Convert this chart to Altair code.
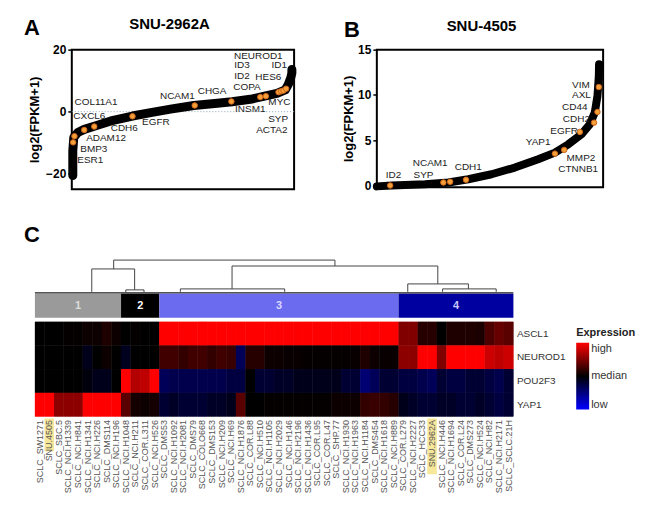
import altair as alt
import pandas as pd

FONT = "Liberation Sans"

# ---------------- Panel A (SNU-2962A) ----------------
a_curve_rank = [0.0045, 0.0045, 0.009, 0.027, 0.056, 0.101, 0.176, 0.273, 0.355, 0.444,
                0.549, 0.654, 0.721, 0.803, 0.862, 0.923, 0.96, 0.974, 0.985, 0.99, 0.99]
a_curve_val = [-20.6, -12.6, -8.3, -6.7, -5.7, -4.7, -3.0, -1.4, -0.3, 0.8,
               2.0, 2.7, 3.2, 4.0, 4.9, 5.9, 7.0, 8.8, 10.9, 12.5, 13.6]
a_hl_rank = [0.006, 0.012, 0.056, 0.101, 0.273, 0.553, 0.718, 0.848, 0.873, 0.93, 0.942, 0.952, 0.964]
a_hl_val = [-9.9, -7.9, -5.9, -4.8, -1.5, 2.0, 3.3, 4.7, 5.0, 6.3, 6.6, 6.8, 7.4]
a_lab_text = ["NEUROD1", "ID3", "ID1", "ID2", "HES6", "COPA", "CHGA", "NCAM1", "MYC", "INSM1",
              "SYP", "ACTA2", "COL11A1", "CXCL6", "CDH6", "EGFR", "ADAM12", "BMP3", "ESR1"]
a_lab_rank = [0.839, 0.766, 0.933, 0.766, 0.884, 0.788, 0.631, 0.475, 0.934, 0.803,
              0.928, 0.900, 0.109, 0.079, 0.236, 0.378, 0.154, 0.099, 0.083]
a_lab_val = [18.1, 14.9, 14.9, 11.5, 11.1, 8.1, 6.8, 4.9, 3.0, 0.9,
             -2.3, -6.0, 3.0, -1.3, -5.3, -3.2, -8.4, -12.0, -15.5]

# ---------------- Panel B (SNU-4505) ----------------
b_curve_rank = [0.0, 0.066, 0.213, 0.316, 0.404, 0.507, 0.61, 0.713, 0.787, 0.846,
                0.904, 0.941, 0.963, 0.975, 0.981, 0.982]
b_curve_val = [-0.1, 0.0, 0.14, 0.33, 0.69, 1.24, 1.98, 2.9, 3.63, 4.55,
               5.65, 6.75, 8.04, 9.88, 12.08, 13.4]
b_hl_rank = [0.059, 0.294, 0.324, 0.394, 0.787, 0.828, 0.897, 0.96, 0.975, 0.981]
b_hl_val = [0.0, 0.33, 0.41, 0.63, 3.52, 3.93, 5.91, 6.94, 8.12, 10.87]
b_lab_text = ["VIM", "AXL", "CD44", "CDH2", "EGFR", "YAP1", "MMP2", "CTNNB1", "CDH1", "NCAM1", "SYP", "ID2"]
b_lab_rank = [0.902, 0.904, 0.875, 0.882, 0.828, 0.713, 0.902, 0.890, 0.404, 0.236, 0.206, 0.074]
b_lab_val = [11.05, 9.94, 8.7, 7.3, 6.02, 4.81, 3.08, 1.8, 2.06, 2.46, 1.18, 1.18]

# ---------------- Panel C (heatmap) ----------------
samples = ["SCLC_SW1271", "SNU.4505", "SCLC_SBC.5", "SCLC_NCI.H1339", "SCLC_NCI.H841",
           "SCLC_NCI.H1341", "SCLC_NCI.H226", "SCLC_DMS114", "SCLC_NCI.H196", "SCLC_NCI.H1048",
           "SCLC_NCI.H211", "SCLC_COR.L311", "SCLC_NCI.H526", "SCLC_DMS53", "SCLC_NCI.H1092",
           "SCLC_NCI.H2081", "SCLC_DMS79", "SCLC_COLO668", "SCLC_DMS153", "SCLC_NCI.H209",
           "SCLC_NCI.H69", "SCLC_NCI.H1876", "SCLC_COR.L88", "SCLC_NCI.H510", "SCLC_NCI.H1105",
           "SCLC_NCI.H2029", "SCLC_NCI.H146", "SCLC_NCI.H2196", "SCLC_NCI.H1436", "SCLC_COR.L95",
           "SCLC_COR.L47", "SCLC_SHP.77", "SCLC_NCI.H1930", "SCLC_NCI.H1963", "SCLC_NCI.H1184",
           "SCLC_DMS454", "SCLC_NCI.H1618", "SCLC_NCI.H889", "SCLC_COR.L279", "SCLC_NCI.H2227",
           "SCLC_HCC33", "SNU.2962A", "SCLC_NCI.H446", "SCLC_NCI.H1694", "SCLC_COR.L24",
           "SCLC_DMS273", "SCLC_NCI.H524", "SCLC_NCI.H82", "SCLC_NCI.H2171", "SCLC_SCLC.21H"]
genes = ["ASCL1", "NEUROD1", "POU2F3", "YAP1"]
expr_ascl1 = [0.0, 0.0, 0.0, 0.02, 0.02, 0.05, 0.05, 0.12, 0.05,
              0.0, 0.02, 0.0, 0.0,
              1.0, 1.0, 1.0, 1.0, 1.0, 1.0, 1.0, 1.0, 1.0, 1.0, 1.0, 1.0, 1.0,
              1.0, 1.0, 1.0, 1.0, 1.0, 1.0, 1.0, 1.0, 1.0, 1.0, 1.0, 1.0,
              0.5, 0.5, 0.15, 0.15, 0.0, 0.12, 0.12, 0.12, 0.1, 0.3, 0.4, 0.35]
expr_neurod1 = [0.0, 0.0, 0.0, 0.0, 0.0, -0.1, 0.0, 0.05, 0.0,
                -0.12, 0.0, 0.0, 0.0,
                0.25, 0.25, 0.2, 0.25, 0.25, 0.2, 0.25, 0.22, -0.35, 0.15, 0.15,
                0.05, 0.05, 0.03, 0.03, 0.02, 0.02, 0.02, 0.02, 0.02, 0.03, 0.12, 0.05, 0.03, 0.03,
                0.55, 0.55, 1.0, 1.0, 0.5, 1.0, 1.0, 1.0, 1.0, 0.8, 0.75, 0.8]
expr_pou2f3 = [0.0, 0.0, 0.0, 0.0, 0.0, -0.05, -0.1, -0.1, 0.0,
               1.0, 0.7, 0.75, 1.0,
               -0.35, -0.3, -0.3, -0.3, -0.3, -0.3, -0.3, -0.25, -0.25, 0.0,
               -0.2, -0.2, -0.15, -0.15, -0.1, -0.1, -0.1, -0.1, -0.1, -0.2, -0.2, -0.45, -0.35, -0.2, -0.2,
               -0.25, -0.25, -0.3, -0.35, -0.2, -0.25, -0.25, -0.2, -0.2, -0.25, -0.3, -0.2]
expr_yap1 = [1.0, 1.0, 0.55, 0.55, 0.55, 1.0, 1.0, 1.0, 1.0,
             0.35, 0.08, 0.05, 0.08,
             -0.2, -0.15, -0.2, -0.2, -0.2, -0.15, -0.15, -0.1, 0.35,
             0.0, 0.0, 0.02, 0.02, 0.02, 0.02, 0.02, 0.02, 0.02, 0.05, 0.05, 0.05,
             0.2, 0.22, 0.2, 0.15,
             -0.1, -0.15, -0.2, -0.2, -0.15, -0.15, -0.2, -0.2, -0.15, -0.2, -0.25, -0.2]
highlight_samples = ["SNU.4505", "SNU.2962A"]

cluster_ids = ["1", "2", "3", "4"]
cluster_start = [0, 9, 13, 38]
cluster_end = [9, 13, 38, 50]
cluster_fill = ["#9a9a9a", "#000000", "#6b6bf0", "#0000a0"]
cluster_text = ["#dcdcdc", "#ffffff", "#d8d8ff", "#c8c8ff"]

# dendrogram segments (sample-index units, merge height 0..1)
dend_x1 = [8.23, 8.23, 5.94, 5.94, 10.42, 9.5, 9.5, 11.4, 31.35, 20.6, 20.6, 15.2, 15.2, 26.1,
           42.1, 38.96, 38.96, 45.3, 42.6, 42.6, 48.2]
dend_x2 = [31.35, 8.23, 10.42, 5.94, 10.42, 11.4, 9.5, 11.4, 31.35, 42.1, 20.6, 26.1, 15.2, 26.1,
           42.1, 45.3, 38.96, 45.3, 48.2, 42.6, 48.2]
dend_h1 = [0.94, 0.94, 0.686, 0.686, 0.686, 0.086, 0.086, 0.086, 0.94, 0.77, 0.77, 0.114, 0.114, 0.114,
           0.77, 0.257, 0.257, 0.257, 0.114, 0.114, 0.114]
dend_h2 = [0.94, 0.686, 0.686, 0.03, 0.086, 0.086, 0.02, 0.02, 0.77, 0.77, 0.114, 0.114, 0.03, 0.03,
           0.257, 0.257, 0.03, 0.114, 0.114, 0.03, 0.03]

# ---------------- build ----------------
frame = alt.ViewBackground(stroke="black", strokeWidth=2, fill="white")
noframe = alt.ViewBackground(stroke=None)
one = pd.DataFrame({"t": [""]})


def scatter_panel(curve_r, curve_v, hl_r, hl_v, lab_t, lab_r, lab_v, ydom, yvals,
                  w, h, title, letter, title_x, title_y, letter_x, letter_y, tpad, zero_line, lw):
    cdf = pd.DataFrame({"rank": curve_r, "val": curve_v, "o": list(range(len(curve_r)))})
    hdf = pd.DataFrame({"rank": hl_r, "val": hl_v})
    ldf = pd.DataFrame({"rank": lab_r, "val": lab_v, "gene": lab_t})
    x = alt.X("rank:Q", scale=alt.Scale(domain=[0, 1]), axis=None)
    y = alt.Y("val:Q", scale=alt.Scale(domain=ydom, nice=False, zero=False),
              axis=alt.Axis(values=yvals, title="log2(FPKM+1)", grid=False, domain=False,
                            tickColor="black", tickWidth=1.5, tickSize=4, labelPadding=2,
                            labelFont=FONT, labelFontSize=12, labelFontWeight="bold", labelColor="black",
                            titleFont=FONT, titleFontSize=13, titleFontWeight="bold", titleColor="black",
                            titlePadding=tpad))
    layers = []
    if zero_line:
        layers.append(alt.Chart(one).mark_rule(color="#8fa6b6", strokeDash=[1, 2], strokeWidth=1)
                      .encode(y=alt.datum(0), x=alt.value(0), x2=alt.value(w)))
    layers.append(alt.Chart(cdf).mark_line(color="black", strokeWidth=lw, strokeCap="round",
                                           strokeJoin="round", clip=False)
                  .encode(x=x, y=y, order="o:Q"))
    layers.append(alt.Chart(hdf).mark_circle(size=30, color="#f4a03a", stroke="#cf6418",
                                             strokeWidth=1, opacity=1).encode(x=x, y=y))
    layers.append(alt.Chart(ldf).mark_text(font=FONT, fontSize=10, color="#222222")
                  .encode(x=x, y=y, text="gene:N"))
    layers.append(alt.Chart(pd.DataFrame({"t": [title]})).mark_text(
        font=FONT, fontSize=15, fontWeight="bold", color="black")
        .encode(text="t:N", x=alt.value(title_x), y=alt.value(title_y)))
    layers.append(alt.Chart(pd.DataFrame({"t": [letter]})).mark_text(
        font=FONT, fontSize=22, fontWeight="bold", color="black")
        .encode(text="t:N", x=alt.value(letter_x), y=alt.value(letter_y)))
    return alt.layer(*layers).properties(width=w, height=h, view=frame)


panel_a = scatter_panel(a_curve_rank, a_curve_val, a_hl_rank, a_hl_val, a_lab_text, a_lab_rank,
                        a_lab_val, [-25, 20], [-20, -10, 0, 10, 20], 223, 140, "SNU-2962A", "A",
                        98, -26, -40, -22, 4, True, 9)
panel_b = scatter_panel(b_curve_rank, b_curve_val, b_hl_rank, b_hl_val, b_lab_text, b_lab_rank,
                        b_lab_val, [-0.19, 15], [0, 5, 10, 15], 227, 138, "SNU-4505", "B",
                        105, -24, -25, -20, 2, False, 8)

top_row = alt.hconcat(panel_a, panel_b, spacing=43)

# ---- panel C: one layered view; its origin lines up with panel A's plot origin,
# so the heatmap's x range starts 37 px to the left of it.
X0, X1 = -37, 443
W = 443
H = 159
ddf = pd.DataFrame({"x1": dend_x1, "x2": dend_x2, "h1": dend_h1, "h2": dend_h2})
qx = alt.Scale(domain=[0, 50], range=[X0, X1], nice=False, zero=False)
dy_scale = alt.Scale(domain=[0, 1], range=[35, 0], nice=False, zero=False)
dend = alt.Chart(ddf).mark_rule(color="#444444", strokeWidth=1).encode(
    x=alt.X("x1:Q", scale=qx, axis=None), x2="x2:Q",
    y=alt.Y("h1:Q", scale=dy_scale, axis=None), y2="h2:Q")
dend_base = alt.Chart(pd.DataFrame({"x1": [0], "x2": [50], "h1": [0]})).mark_rule(
    color="#555555", strokeWidth=2).encode(
    x=alt.X("x1:Q", scale=qx, axis=None), x2="x2:Q",
    y=alt.Y("h1:Q", scale=dy_scale, axis=None))
letter_c = alt.Chart(pd.DataFrame({"t": ["C"]})).mark_text(
    font=FONT, fontSize=22, fontWeight="bold", color="black").encode(
    text="t:N", x=alt.value(-40), y=alt.value(-23))

cdf = pd.DataFrame({"id": cluster_ids, "start": cluster_start, "end": cluster_end,
                    "fill": cluster_fill, "tc": cluster_text})
cdf["mid"] = (cdf["start"] + cdf["end"]) / 2
bar = alt.Chart(cdf).mark_rect().encode(
    x=alt.X("start:Q", scale=qx, axis=None), x2="end:Q",
    y=alt.value(36), y2=alt.value(60), fill=alt.Fill("fill:N", scale=None))
bar_txt = alt.Chart(cdf).mark_text(font=FONT, fontSize=11, fontWeight="bold").encode(
    x=alt.X("mid:Q", scale=qx, axis=None), y=alt.value(48), text="id:N",
    fill=alt.Fill("tc:N", scale=None))

rows = []
for g, vals in zip(genes, [expr_ascl1, expr_neurod1, expr_pou2f3, expr_yap1]):
    for s, v in zip(samples, vals):
        rows.append({"gene": g, "sample": s, "value": v})
hdf = pd.DataFrame(rows)
bx_scale = alt.Scale(domain=samples, range=[X0, X1], paddingInner=0, paddingOuter=0)
hx = alt.X("sample:N", sort=samples, scale=bx_scale,
           axis=alt.Axis(title=None, labelAngle=270, labelFont=FONT, labelFontSize=9,
                         labelColor="#555555", ticks=False, domain=False, labelPadding=3,
                         zindex=1, labelOverlap=False))
hx_noaxis = alt.X("sample:N", sort=samples, scale=bx_scale, axis=None)
gy_scale = alt.Scale(domain=genes, range=[64, 159], paddingInner=0, paddingOuter=0)
hy = alt.Y("gene:N", sort=genes, scale=gy_scale,
           axis=alt.Axis(title=None, orient="right", labelFont=FONT, labelFontSize=10,
                         labelColor="#333333", ticks=False, domain=False, labelPadding=3))
hy_noaxis = alt.Y("gene:N", sort=genes, scale=gy_scale, axis=None)
cscale = alt.Scale(domain=[-1, 0, 1], range=["#0000ff", "#000000", "#ff0000"],
                   interpolate="rgb", clamp=True)
heat_cells = alt.Chart(hdf).mark_rect().encode(
    x=hx, y=hy,
    color=alt.Color("value:Q", scale=cscale,
                    legend=alt.Legend(title="Expression", orient="none", legendX=506, legendY=69,
                                      direction="vertical", gradientLength=67, gradientThickness=13,
                                      values=[-1, 0, 1],
                                      labelExpr="datum.value > 0.5 ? 'high' : (datum.value < -0.5 ? 'low' : 'median')",
                                      titleFont=FONT, titleFontSize=11, titleFontWeight="bold",
                                      titleColor="#222222", labelFont=FONT, labelFontSize=11,
                                      labelColor="#333333", titlePadding=5, labelOffset=2,
                                      gradientStrokeWidth=0)),
)
# second pass of the same cells hides anti-aliasing seams between neighbouring cells
heat_cells2 = alt.Chart(hdf).mark_rect().encode(
    x=hx_noaxis, y=hy_noaxis, color=alt.Color("value:Q", scale=cscale, legend=None))
hl_df = pd.DataFrame({"sample": highlight_samples})
hl1 = alt.Chart(hl_df).transform_filter(alt.datum.sample == "SNU.4505").mark_rect(
    color="#f7e79a").encode(x=hx_noaxis, y=alt.value(H + 2), y2=alt.value(H + 35))
hl2 = alt.Chart(hl_df).transform_filter(alt.datum.sample == "SNU.2962A").mark_rect(
    color="#f7e79a").encode(x=hx_noaxis, y=alt.value(H + 2), y2=alt.value(H + 58))

panel_c = alt.layer(hl1, hl2, dend, dend_base, letter_c, bar, bar_txt, heat_cells,
                    heat_cells2).resolve_scale(
    x="independent", y="independent").properties(width=W, height=H, view=noframe)

chart = alt.vconcat(top_row, panel_c, spacing=31).properties(
    padding={"left": 15, "top": 7, "right": 5, "bottom": 5}
).resolve_legend(color="independent").configure(font=FONT).configure_view(stroke=None)

chart.save("out.html", embed_options={"renderer": "svg", "actions": False})
